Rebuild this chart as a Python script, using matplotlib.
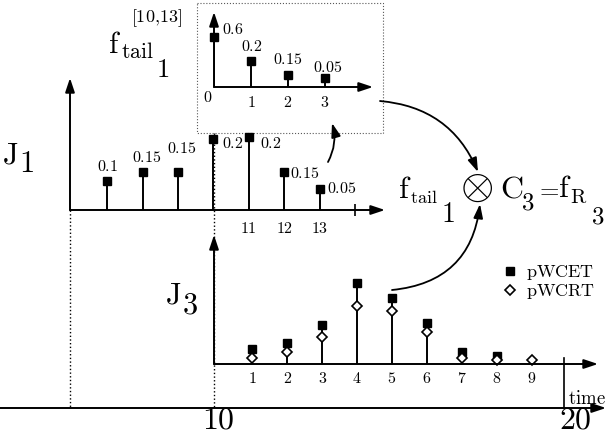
import numpy as np
import matplotlib
matplotlib.use('Agg')
from matplotlib import pyplot as plt
from matplotlib.patches import Rectangle

plt.rcParams['mathtext.fontset'] = 'cm'

W, H = 608, 438

# J1: execution time distribution, probabilities as printed, heights as drawn (% of axis)
j1_time = [7, 8, 9, 10, 11, 12, 13]
j1_prob = ['0.1', '0.15', '0.15', '0.2', '0.2', '0.15', '0.05']
j1_level = [22, 29, 29, 54, 55, 29, 16]

# tail of J1 from time 10, shifted to 0
tail_time = [0, 1, 2, 3]
tail_prob = ['0.6', '0.2', '0.15', '0.05']
tail_level = [67, 35, 16, 12]

# J3: pWCET and pWCRT (drawn heights, % of axis)
j3_time = [1, 2, 3, 4, 5, 6, 7, 8, 9]
j3_pwcet = [12, 16, 30, 63, 51, 32, 9, 6, np.nan]
j3_pwcrt = [5, 9, 21, 45, 41, 25, 5, 3, 3]

# label offsets in pixels (dx, dy, ha)
j1_off = [(0, 14, 'center'), (4, 14, 'center'), (4, 23, 'center'), (9, -5, 'left'),
          (11, -6, 'left'), (6, -2, 'left'), (7, 0, 'left')]
tail_off = [(8, 7, 'left'), (1, 14, 'center'), (0, 16, 'center'), (3, 11, 'center')]

arrow = dict(arrowstyle='-|>,head_length=0.6,head_width=0.2', color='k', lw=1.4,
             shrinkA=0, shrinkB=0, mutation_scale=14)


def px_axes(fig, left, top, right, bottom):
    # axes placed by pixel box, with arrow-headed axis lines
    ax = fig.add_axes([left / W, 1 - bottom / H, (right - left) / W, (bottom - top) / H])
    ax.set_facecolor('none')
    for s in ax.spines.values():
        s.set_visible(False)
    ax.set_yticks([])
    ax.set_ylim(0, 100)
    ax.annotate('', xy=(1, 0), xytext=(0, 0), xycoords='axes fraction', arrowprops=arrow)
    ax.annotate('', xy=(0, 1), xytext=(0, 0), xycoords='axes fraction', arrowprops=arrow)
    return ax


def stem_labels(ax, xs, ys, labels, offs):
    for x, y, s, (dx, dy, ha) in zip(xs, ys, labels, offs):
        ax.annotate('$' + s + '$', (x, y), xytext=(dx, dy), textcoords='offset pixels',
                    ha=ha, va='center', fontsize=11.5)


def put(x, y, s, size, **kw):
    # text at pixel position (left, baseline)
    kw.setdefault('ha', 'left')
    kw.setdefault('va', 'baseline')
    bg.text(x, y, s, fontsize=size, **kw)


fig = plt.figure(figsize=(W / 100, H / 100), dpi=100)

bg = fig.add_axes([0, 0, 1, 1])
bg.set_xlim(0, W)
bg.set_ylim(H, 0)
bg.axis('off')

# dotted guides and zoom box
bg.plot([70, 70], [210, 408], ':', color='k', lw=1)
bg.plot([214, 214], [133, 408], ':', color='k', lw=1)
bg.add_patch(Rectangle((197, 3), 186, 130, fill=False, ls=':', lw=0.8, ec='0.35'))

# time line
bg.annotate('', xy=(606, 408), xytext=(0, 408), arrowprops=arrow)
bg.plot([564, 564], [358, 408], color='k', lw=1.2)
put(218, 420, '$10$', 23, ha='center', va='center')
put(575, 420, '$20$', 23, ha='center', va='center')
put(587, 398, r'$\mathrm{time}$', 13.5, ha='center', va='center')

# J labels
put(2, 163, r'$\mathrm{J}$', 22)
put(19, 172, '$1$', 22)
put(165, 303, r'$\mathrm{J}$', 22)
put(182, 313, '$3$', 22)

# f_tail_1^[10,13]
put(108, 53, r'$\mathrm{f}$', 22)
put(131, 22, r'$[10{,}13]$', 13)
put(121, 58, r'$\mathrm{tail}$', 15.5)
put(156, 77, '$1$', 19)

# f_tail_1 (x) C_3 = f_R_3
put(398, 198, r'$\mathrm{f}$', 23)
put(410, 203, r'$\mathrm{tail}$', 13)
put(441, 222, '$1$', 20)
put(477, 187, r'$\otimes$', 31, ha='center', va='center')
put(500, 197, r'$\mathrm{C}$', 23)
put(521, 210, '$3$', 18)
put(535, 196, '$=$', 18)
put(558, 197, r'$\mathrm{f}$', 23)
put(570, 203, r'$\mathrm{R}$', 15)
put(591, 224, '$3$', 18)

# connecting arrows
bg.annotate('', xy=(478, 172), xytext=(380, 101),
            arrowprops=dict(arrow, lw=1.3, connectionstyle='arc3,rad=-0.3'))
bg.annotate('', xy=(480, 204), xytext=(392, 290),
            arrowprops=dict(arrow, lw=1.3, connectionstyle='arc3,rad=0.4'))
bg.annotate('', xy=(332, 123), xytext=(328, 162),
            arrowprops=dict(arrow, lw=1.3, connectionstyle='arc3,rad=0.2'))

# J1 distribution
ax1 = px_axes(fig, 70, 78, 385, 210)
ax1.set_xlim(5.95, 14.85)
ax1.vlines(j1_time, 0, j1_level, color='k', lw=1.4)
ax1.plot(j1_time, j1_level, 's', color='k', ms=5.5, clip_on=False)
stem_labels(ax1, j1_time, j1_level, j1_prob, j1_off)
ax1.set_xticks([11, 12, 13], labels=['$11$', '$12$', '$13$'], fontsize=11.5)
ax1.set_xticks([14], minor=True)
ax1.tick_params(which='major', length=0, pad=8)
ax1.tick_params(which='minor', length=8, width=1.2, direction='inout')

# tail, shifted
ax2 = px_axes(fig, 214, 12, 373, 87)
ax2.set_xlim(0, 4.3)
ax2.vlines(tail_time, 0, tail_level, color='k', lw=1.4)
ax2.plot(tail_time, tail_level, 's', color='k', ms=5.5, clip_on=False)
stem_labels(ax2, tail_time, tail_level, tail_prob, tail_off)
ax2.set_xticks([1, 2, 3], labels=['$1$', '$2$', '$3$'], fontsize=11.5)
ax2.tick_params(length=0, pad=6)
put(208, 97, '$0$', 11.5, ha='center', va='center')

# J3 response time
ax3 = px_axes(fig, 214, 235, 598, 364)
ax3.set_xlim(-0.1, 10.9)
ax3.vlines(j3_time, 0, np.fmax(j3_pwcet, j3_pwcrt), color='k', lw=1.4)
ax3.plot(j3_time, j3_pwcet, 's', color='k', ms=5.5, clip_on=False, label=r'$\mathrm{pWCET}$')
ax3.plot(j3_time, j3_pwcrt, 'D', mfc='white', mec='k', mew=1.2, ms=5.5, clip_on=False,
         label=r'$\mathrm{pWCRT}$')
ax3.set_xticks(j3_time, labels=['$%d$' % t for t in j3_time], fontsize=11.5)
ax3.tick_params(length=0, pad=5)
ax3.legend(loc='upper left', bbox_to_anchor=(504 / W, 1 - 263 / H), bbox_transform=fig.transFigure,
           frameon=False, fontsize=13, handlelength=0.7, handletextpad=0.5,
           labelspacing=0.0, borderpad=0, borderaxespad=0)

plt.savefig('out.png', dpi=100)
